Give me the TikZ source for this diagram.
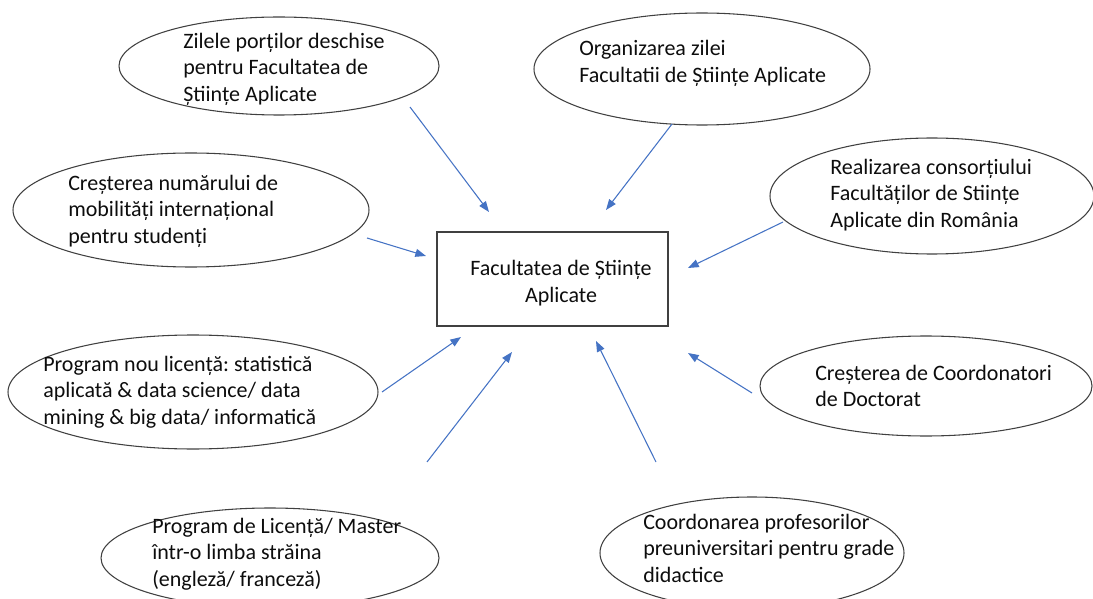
\documentclass[tikz,border=0pt]{standalone}
\usepackage{fontspec}
\setmainfont{Carlito}
\frenchspacing
\usetikzlibrary{shapes.geometric,arrows.meta}

\begin{document}
\begin{tikzpicture}[x=0.75pt,y=-0.75pt,
  oval/.style={draw=color2,line width=0.8pt,ellipse,inner sep=0pt},
  txt/.style={anchor=west,align=left,inner sep=0pt,text=color1,font=\fontsize{16.5}{19.9}\selectfont},
  link/.style={draw=color3,line width=0.8pt,-{Triangle[length=8pt,width=6pt,fill=color3]}}]
\definecolor{color1}{rgb}{0.05,0.05,0.05}
\definecolor{color2}{rgb}{0.25,0.25,0.25}
\definecolor{color3}{rgb}{0.27,0.45,0.77}
\useasboundingbox (0,0) rectangle (1093,599);
\coordinate[] (T1) at (410,107);
\coordinate[] (H1) at (489,212);
\coordinate[] (T2) at (672,124);
\coordinate[] (H2) at (606,210);
\coordinate[] (T3) at (367,238);
\coordinate[] (H3) at (426,256);
\coordinate[] (T4) at (783,222);
\coordinate[] (H4) at (688,268);
\coordinate[] (T5) at (752,393);
\coordinate[] (H5) at (688,353);
\coordinate[] (T6) at (382,392);
\coordinate[] (H6) at (461,337);
\coordinate[] (T7) at (427,462);
\coordinate[] (H7) at (512,352);
\coordinate[] (T8) at (656,462);
\coordinate[] (H8) at (596,341);
\node[draw=color2,line width=1pt,minimum width=173.25pt,minimum height=70.5pt] (fsa) at (552.5,279) {};
\node[txt,anchor=center,align=center] (fsat) at (561,283) {Facultatea de Științe\\Aplicate};
\node[oval,minimum width=240pt,minimum height=73.5pt] (zile) at (279,66) {};
\node[txt] (zilet) at (183,69) {Zilele porților deschise\\pentru Facultatea de\\Științe Aplicate};
\node[oval,minimum width=252pt,minimum height=84pt] (org) at (702,69) {};
\node[txt] (orgt) at (579,63.5) {Organizarea zilei\\Facultatii de Științe Aplicate};
\node[oval,minimum width=267pt,minimum height=85.5pt] (mob) at (191,210) {};
\node[txt] (mobt) at (68,211) {Creșterea numărului de\\mobilități internațional\\pentru studenți};
\node[oval,minimum width=243pt,minimum height=87pt] (cons) at (932,196) {};
\node[txt] (const) at (830,195) {Realizarea consorțiului\\Facultăților de Stiințe\\Aplicate din România};
\node[oval,minimum width=277.5pt,minimum height=85.5pt] (lic) at (193,392) {};
\node[txt] (lict) at (43,392) {Program nou licență: statistică\\aplicată \& data science/ data\\mining \& big data/ informatică};
\node[oval,minimum width=249pt,minimum height=75pt] (doc) at (926,386) {};
\node[txt] (doct) at (815,386) {Creșterea de Coordonatori\\de Doctorat};
\node[oval,minimum width=253.5pt,minimum height=75pt] (lim) at (270,558) {};
\node[txt] (limt) at (152,554) {Program de Licență/ Master\\într-o limba străina\\(engleză/ franceză)};
\node[oval,minimum width=228pt,minimum height=84pt] (prof) at (752,553) {};
\node[txt] (proft) at (643,548) {Coordonarea profesorilor\\preuniversitari pentru grade\\didactice};
\draw[link] (T1)--(H1);
\draw[link] (T2)--(H2);
\draw[link] (T3)--(H3);
\draw[link] (T4)--(H4);
\draw[link] (T5)--(H5);
\draw[link] (T6)--(H6);
\draw[link] (T7)--(H7);
\draw[link] (T8)--(H8);

\end{tikzpicture}
\end{document}
